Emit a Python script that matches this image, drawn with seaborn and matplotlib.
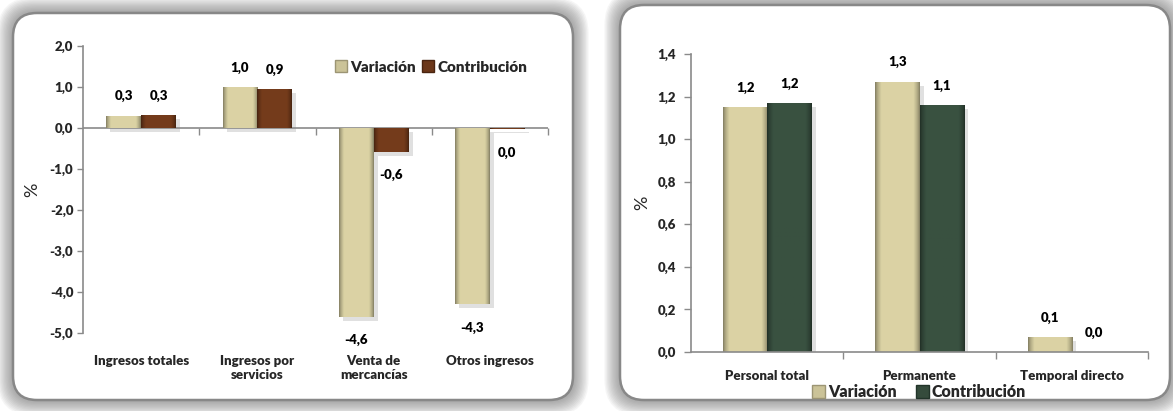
import numpy as np
import pandas as pd
import matplotlib
matplotlib.use("Agg")
import matplotlib.pyplot as plt
import seaborn as sns
from matplotlib.patches import FancyBboxPatch, Patch
from matplotlib.transforms import IdentityTransform
from matplotlib.ticker import FuncFormatter
import matplotlib.patheffects as pe

# ---------------- data ----------------
series_names = ["Variación", "Contribución"]

left_categories = ["Ingresos totales", "Ingresos por\nservicios", "Venta de\nmercancías", "Otros ingresos"]
left_variacion = [0.30, 1.00, -4.60, -4.30]
left_contribucion = [0.32, 0.95, -0.58, -0.02]
left_var_labels = ["0,3", "1,0", "-4,6", "-4,3"]
left_con_labels = ["0,3", "0,9", "-0,6", "0,0"]
left_yticks = [-5.0, -4.0, -3.0, -2.0, -1.0, 0.0, 1.0, 2.0]

right_categories = ["Personal total", "Permanente", "Temporal directo"]
right_variacion = [1.15, 1.27, 0.07]
right_contribucion = [1.17, 1.16, 0.0]
right_var_labels = ["1,2", "1,3", "0,1"]
right_con_labels = ["1,2", "1,1", "0,0"]
right_yticks = [0.0, 0.2, 0.4, 0.6, 0.8, 1.0, 1.2, 1.4]

# ---------------- style ----------------
W, H = 1173, 411
BEIGE = "#CBC398"
BROWN = "#6C3719"
GREEN = "#354B3C"
AXIS_GRAY = "#8A8A8A"
FW = "heavy"

sns.set_theme(style="white")
plt.rcParams["font.family"] = ["Lato", "DejaVu Sans"]

fig = plt.figure(figsize=(W / 100, H / 100), dpi=100)
fig.patch.set_facecolor("white")


def panel(x0, y0, x1, y1):
    """Rounded panel with soft shadow, pixel coordinates (top-left origin)."""
    w, h = x1 - x0, y1 - y0
    yb = H - y1
    for k in range(12, 0, -1):
        p = FancyBboxPatch((x0 - k * 1.3, yb - k * 1.3), w + k * 2.6, h + k * 2.6,
                           boxstyle=f"round,pad=0,rounding_size={24 + k}",
                           transform=IdentityTransform(), facecolor="#606060",
                           edgecolor="none", alpha=0.06, zorder=-20)
        fig.add_artist(p)
    p = FancyBboxPatch((x0, yb), w, h, boxstyle="round,pad=0,rounding_size=24",
                       transform=IdentityTransform(), facecolor="white",
                       edgecolor="#888888", linewidth=1.8, zorder=-10)
    fig.add_artist(p)


panel(13, 13, 573, 400)
panel(620, 5, 1170, 400)

comma = FuncFormatter(lambda v, _: f"{v:.1f}".replace(".", ","))


def shade_bars(ax, colors):
    xs = np.linspace(0, 1, 80)
    ramp = np.clip(np.minimum(xs, 1 - xs) / 0.14, 0, 1)
    prof = 0.64 + 0.44 * ramp ** 0.7
    for cont, col in zip(ax.containers, colors):
        base = np.array(matplotlib.colors.to_rgb(col))
        img = np.clip(prof[:, None] * base[None, :], 0, 1)[None, :, :]
        for p in cont:
            h = p.get_height()
            p.set_path_effects([pe.SimplePatchShadow(offset=(3, -3), shadow_rgbFace="#999999", alpha=0.3),
                                pe.Normal()])
            if abs(h) < 1e-9:
                continue
            x0, y0, w = p.get_x(), p.get_y(), p.get_width()
            im = ax.imshow(img, extent=(x0, x0 + w, y0, y0 + h), aspect="auto",
                           interpolation="bilinear", zorder=p.get_zorder() + 0.01)
            im.set_clip_path(p)


def value_labels(ax, label_sets, up=14, down=-17):
    for cont, labels in zip(ax.containers, label_sets):
        for p, lab in zip(cont, labels):
            h = p.get_height()
            xc = p.get_x() + p.get_width() / 2
            off = up if h >= 0 else down
            ax.annotate(lab, xy=(xc, h), xytext=(0, off), textcoords="offset points",
                        ha="center", va="center", fontsize=9.5, fontweight=FW, color="black")


def make_df(cats, a, b):
    return pd.DataFrame({
        "Categoría": cats * 2,
        "Valor": list(a) + list(b),
        "Serie": [series_names[0]] * len(cats) + [series_names[1]] * len(cats),
    })


# ---------------- left chart ----------------
axL = fig.add_axes([83 / W, (H - 333) / H, (548 - 83) / W, (333 - 46) / H])
axL.patch.set_alpha(0)
dfL = make_df(left_categories, left_variacion, left_contribucion)
sns.barplot(data=dfL, x="Categoría", y="Valor", hue="Serie", hue_order=series_names,
            palette=[BEIGE, BROWN], width=0.6, gap=0, saturation=1, errorbar=None,
            legend=False, ax=axL, linewidth=0)
shade_bars(axL, [BEIGE, BROWN])
value_labels(axL, [left_var_labels, left_con_labels], up=14, down=-17)
axL.set_xlim(-0.5, len(left_categories) - 0.5)
axL.set_ylim(min(left_yticks), max(left_yticks))
axL.set_yticks(left_yticks)
axL.yaxis.set_major_formatter(comma)
axL.axhline(0, color=AXIS_GRAY, lw=1.2, zorder=1)
for s in ["top", "right", "bottom"]:
    axL.spines[s].set_visible(False)
axL.spines["left"].set_color(AXIS_GRAY)
axL.spines["left"].set_linewidth(1.2)
axL.tick_params(axis="y", left=True, length=4, width=1, color=AXIS_GRAY, pad=3,
                labelsize=9.5)
axL.tick_params(axis="x", bottom=False, length=0, pad=16, labelsize=9.5)
sec = axL.secondary_xaxis(0, transform=axL.transData)
sec.set_xticks([0.5, 1.5, 2.5, 3.5])
sec.tick_params(direction="out", length=5, width=1, color=AXIS_GRAY, labelbottom=False)
sec.spines["bottom"].set_visible(False)
axL.set_xlabel("")
axL.set_ylabel("%", fontsize=13, fontweight="normal")
axL.yaxis.set_label_coords(-0.092, 0.5)
for t in axL.get_xticklabels() + axL.get_yticklabels():
    t.set_fontweight(FW)
axL.legend(handles=[Patch(facecolor=BEIGE, edgecolor="#9C9574", label=series_names[0]),
                    Patch(facecolor=BROWN, edgecolor="#4A2410", label=series_names[1])],
           loc="center", bbox_to_anchor=(431 / W, 1 - 67 / H), bbox_transform=fig.transFigure,
           ncol=2, frameon=False, handlelength=0.8, handleheight=0.8, handletextpad=0.2,
           columnspacing=0.4, prop={"size": 11, "weight": FW})

# ---------------- right chart ----------------
axR = fig.add_axes([691 / W, (H - 352) / H, (1148 - 691) / W, (352 - 54) / H])
axR.patch.set_alpha(0)
dfR = make_df(right_categories, right_variacion, right_contribucion)
sns.barplot(data=dfR, x="Categoría", y="Valor", hue="Serie", hue_order=series_names,
            palette=[BEIGE, GREEN], width=0.58, gap=0, saturation=1, errorbar=None,
            legend=False, ax=axR, linewidth=0)
shade_bars(axR, [BEIGE, GREEN])
value_labels(axR, [right_var_labels, right_con_labels], up=14, down=-17)
axR.set_xlim(-0.5, len(right_categories) - 0.5)
axR.set_ylim(min(right_yticks), max(right_yticks))
axR.set_yticks(right_yticks)
axR.yaxis.set_major_formatter(comma)
for s in ["top", "right"]:
    axR.spines[s].set_visible(False)
for s in ["left", "bottom"]:
    axR.spines[s].set_color(AXIS_GRAY)
    axR.spines[s].set_linewidth(1.2)
axR.set_xticks([0.5, 1.5, 2.5], minor=True)
axR.tick_params(axis="y", left=True, length=5, width=1, color=AXIS_GRAY, pad=6, labelsize=9.5)
axR.tick_params(axis="x", which="major", bottom=True, length=0, pad=13, labelsize=9.5)
axR.tick_params(axis="x", which="minor", bottom=True, length=5, width=1, color=AXIS_GRAY,
                direction="out")
axR.set_xlabel("")
axR.set_ylabel("%", fontsize=13, fontweight="normal")
axR.yaxis.set_label_coords(-0.090, 0.5)
for t in axR.get_xticklabels() + axR.get_yticklabels():
    t.set_fontweight(FW)
axR.legend(handles=[Patch(facecolor=BEIGE, edgecolor="#9C9574", label=series_names[0]),
                    Patch(facecolor=GREEN, edgecolor="#22342A", label=series_names[1])],
           loc="center", bbox_to_anchor=(919 / W, 1 - 392 / H), bbox_transform=fig.transFigure,
           ncol=2, frameon=False, handlelength=0.8, handleheight=0.8, handletextpad=0.2,
           columnspacing=1.2, prop={"size": 11.5, "weight": FW})

fig.savefig("out.png", dpi=100, facecolor="white")
